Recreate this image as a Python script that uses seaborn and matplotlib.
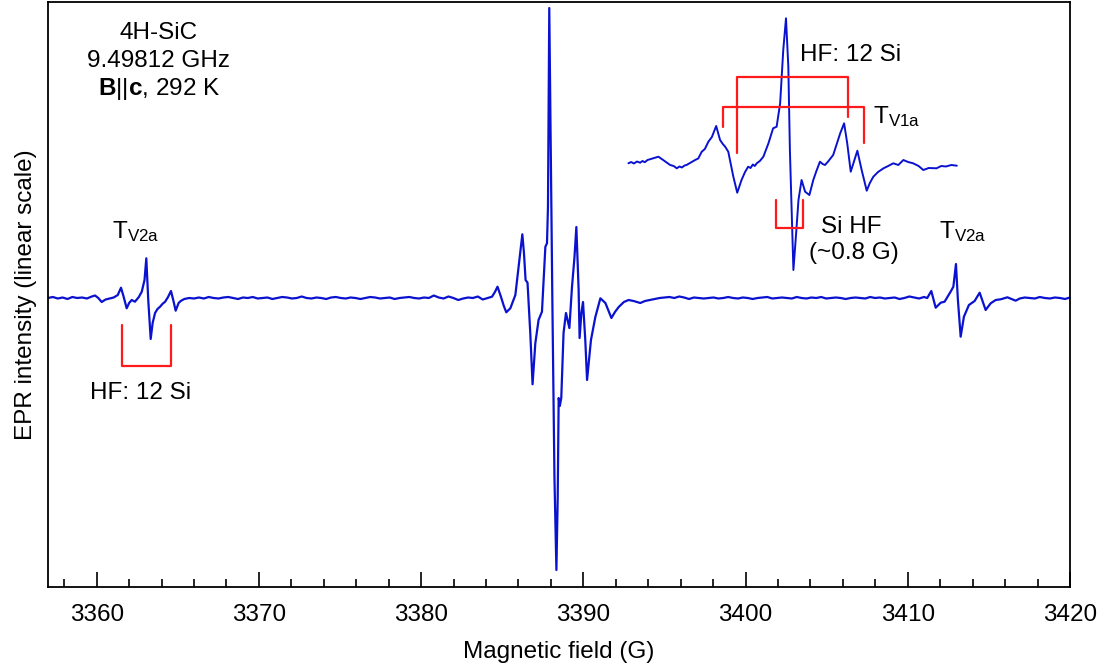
import numpy as np
import pandas as pd
import matplotlib
matplotlib.use("Agg")
import matplotlib.pyplot as plt
import seaborn as sns

# ==============================================================
# DATA
# ==============================================================
# intensity in arbitrary units (baseline = 0)

# flat baseline pieces: start, stop, hand-read wiggles
base_left = (3357.0, 3359.7, [0, 1, -0.5, 0.5, -1, 1, 0, 0.5, -0.5, 1.5])
base_mid1 = (3365.4, 3384.1, [-1, 0, -0.5, 0.5, -0.5, 1, 0, -0.5, 0.5, 1, 0, -1, 0.5, 0, 1, -0.5,
                              0, 0.5, -1, 0, 1, 0.5, -0.5, 0, 1.5, 0, -0.5, 0.5, 0, -1, 0.5, 1,
                              0, -0.5, 0.5, 0, -1, 0, 1, 0.5, -0.5, 0, 0.5, -1, 0, 0.5, 1, 0,
                              -0.5, 0.5, 0, 2.5, 0.5, -0.5, 1.5, 0, -2, -0.5, 0.5, 0, 1.5, -1.5, 0])
base_mid2 = (3393.8, 3411.0, [-3, -2, -1, 0, 0.5, 1, 0, 1.5, 0.5, -1, 0.5, 0, -0.5, 0, 0.5, -0.5,
                              0, 1, 0, -0.5, 0.5, 0, -1, 0, 0.5, 1, -0.5, 0, 0.5, 0, -0.5, 1,
                              0, -0.5, 0.5, 0, 1, -0.5, 0, 0.5, 0, -1, 0, 0.5, 0, -0.5, 1, 0,
                              0.5, -0.5, 0, 0.5, -1, 0, 1.5, 0.5, -0.5, 1])
base_right = (3416.9, 3420.0, [-0.5, 0.5, 0, -0.5, 1, 0, -0.5, 0.5, 0, -1, 0.5])

# T_V2a low-field line
tv2a_lo_field = [3359.9, 3360.1, 3360.31, 3360.55, 3360.8, 3361.05, 3361.3, 3361.5, 3361.65,
                 3361.85, 3362.0, 3362.16, 3362.36, 3362.6, 3362.78, 3362.95, 3363.06, 3363.18,
                 3363.33, 3363.45, 3363.6, 3363.75, 3363.91, 3364.05, 3364.22, 3364.4, 3364.58,
                 3364.72, 3364.87, 3365.05, 3365.18]
tv2a_lo_int = [2.5, 0, -4, -1.5, -0.5, 0.5, 3, 10.3, 2, -10.3, -5, -2, -3.7, 1, 6.3, 18, 39.7,
               -2, -41, -25, -15, -11, -8.7, -6, -3.7, 1, 7, -2, -12.7, -5, -3]

# central T_V1a group
center_field = [3384.37, 3384.55, 3384.71, 3384.92, 3385.1, 3385.25, 3385.5, 3385.81, 3386.01,
                3386.24, 3386.34, 3386.44, 3386.56, 3386.73, 3386.87, 3387.04, 3387.24, 3387.45,
                3387.66, 3387.76, 3387.82, 3387.90, 3388.09, 3388.22, 3388.34, 3388.42, 3388.48,
                3388.55, 3388.64, 3388.78, 3388.93, 3389.14, 3389.30, 3389.45, 3389.57, 3389.71,
                3389.77, 3389.88, 3389.98, 3390.12, 3390.23, 3390.47, 3390.74, 3391.05, 3391.36,
                3391.73, 3391.95, 3392.18, 3392.5, 3392.79, 3393.1, 3393.51]
center_int = [1.3, 6, 11.3, 1.3, -8, -14.3, -10.3, 3, 31.3, 63.7, 45, 18, 15.3, -35.3, -86.3,
              -45.3, -22, -13.7, 51.3, 54.7, 91, 290, -2, -180, -272, -200, -100, -108, -100,
              -35, -15, -30, 11, 40, 71, 8, -40, -15, -4, -42, -82, -42, -19, -0.3, -5, -20,
              -14, -9, -4, -2, -3, -5]

# T_V2a high-field line
tv2a_hi_field = [3411.2, 3411.45, 3411.72, 3412.03, 3412.27, 3412.64, 3412.81, 3412.97, 3413.09,
                 3413.26, 3413.46, 3413.77, 3414.12, 3414.43, 3414.80, 3415.11, 3415.42, 3415.73,
                 3416.14, 3416.65]
tv2a_hi_int = [0, 7, -9.7, -4.7, -3.7, 6.3, 11.3, 34, -2, -38.7, -18.7, -7, -3, 5.3, -12, -5.3,
               -2, -1.3, 0.7, -2.7]

# expanded central line (inset trace)
inset_field = [3383.96, 3384.03, 3384.10, 3384.18, 3384.26, 3384.32, 3384.38, 3384.45, 3384.51,
               3384.62, 3384.73, 3384.85, 3384.94, 3385.03, 3385.12, 3385.20, 3385.27, 3385.33,
               3385.40, 3385.45, 3385.56, 3385.67, 3385.75, 3385.84, 3385.92, 3386.01, 3386.10,
               3386.21, 3386.31, 3386.38, 3386.44, 3386.52, 3386.65, 3386.75, 3386.86, 3386.95,
               3387.03, 3387.09, 3387.15, 3387.20, 3387.25, 3387.33, 3387.42, 3387.55, 3387.67,
               3387.76, 3387.85, 3387.93, 3388.00, 3388.06, 3388.10, 3388.15, 3388.19, 3388.26,
               3388.32, 3388.40, 3388.49, 3388.60, 3388.70, 3388.78, 3388.87, 3388.94, 3389.00,
               3389.08, 3389.21, 3389.39, 3389.49, 3389.57, 3389.66, 3389.83, 3389.94, 3390.07,
               3390.15, 3390.24, 3390.36, 3390.50, 3390.62, 3390.75, 3390.88, 3391.01, 3391.13,
               3391.26, 3391.40, 3391.52, 3391.66, 3391.86, 3391.98, 3392.10, 3392.24, 3392.38]
inset_int = [-0.3, 1, -0.5, 1.5, 0.3, 2, 0.8, 3, 3.7, 5, 6.3, 3, 0.5, -2, -3, -5.3, -3.5, -4.5,
             -2.5, -2, 0.5, 3, 4.5, 11.3, 14, 21.3, 26, 37, 23, 19, 16.3, 11.3, -13.7, -29.7,
             -17, -9, -3.7, -5, -1.5, -3, -0.3, 2, 6.3, 19.7, 34.7, 36.3, 59.7, 113, 144.7, 96.3,
             13, -53.7, -107, -70.3, -37, -17, -28.7, -32, -17, -8, 1.3, -1, -2, 1.5, 8, 29.7,
             39.7, 19.7, -8.7, 12.3, -7, -27.7, -20, -13.7, -9, -5.3, -3, -0.3, -2, 3, 1, -0.3,
             -3, -7, -5, -5.3, -3, -3.5, -2, -2.7]

# brackets (field, intensity) in the inset and main frame
inset_hf_upper = ([3386.74, 3386.74, 3389.60, 3389.60], [9.7, 86.3, 86.3, 46.3])
inset_hf_lower = ([3386.39, 3386.39, 3390.01, 3390.01], [36.3, 56.3, 56.3, 20.3])
inset_si_hf = ([3387.74, 3387.74, 3388.43, 3388.43], [-37, -64.7, -64.7, -37])
main_hf_left = ([3361.58, 3361.58, 3364.60, 3364.60], [-27, -68, -68, -27])

BLUE = "#0a12cf"
RED = "#ff1a1a"


def build_trace():
    parts = []
    segs = [base_left, (tv2a_lo_field, tv2a_lo_int), base_mid1, (center_field, center_int),
            base_mid2, (tv2a_hi_field, tv2a_hi_int), base_right]
    for seg in segs:
        if len(seg) == 3:
            start, stop, wig = seg
            parts.append(pd.DataFrame({"field": np.linspace(start, stop, len(wig)), "int": wig}))
        else:
            parts.append(pd.DataFrame({"field": seg[0], "int": seg[1]}))
    return pd.concat(parts, ignore_index=True)


# ==============================================================
# STYLE
# ==============================================================
sns.set_style("ticks")
plt.rcParams['font.family'] = ['Liberation Sans', 'DejaVu Sans']
plt.rcParams['mathtext.fontset'] = 'custom'
plt.rcParams['mathtext.rm'] = 'Liberation Sans'
plt.rcParams['mathtext.bf'] = 'Liberation Sans:bold'
plt.rcParams['mathtext.it'] = 'Liberation Sans:italic'
plt.rcParams['text.color'] = 'black'
plt.rcParams['axes.labelcolor'] = 'black'
plt.rcParams['xtick.color'] = 'black'
plt.rcParams['ytick.color'] = 'black'

FS = 17.5
W, H = 1106, 671

fig = plt.figure(figsize=(W / 100, H / 100), dpi=100)
ax = fig.add_axes([48 / W, 1 - 587 / H, (1070 - 48) / W, 585 / H])

spec = build_trace()
sns.lineplot(data=spec, x="field", y="int", ax=ax, color=BLUE, lw=1.6,
             sort=False, estimator=None)

ax.set_xlim(3357, 3420)
ax.set_ylim(-289, 296)
ax.set_yticks([])
ax.set_xticks(np.arange(3360, 3421, 10))
ax.set_xticks(np.arange(3358, 3421, 2), minor=True)
ax.tick_params(axis="x", which="major", direction="in", length=11, width=1.2,
               labelsize=FS, pad=12)
ax.tick_params(axis="x", which="minor", direction="in", length=5.5, width=1.2)
for sp in ax.spines.values():
    sp.set_linewidth(1.3)
    sp.set_color("black")
ax.set_xlabel("Magnetic field (G)", fontsize=FS, labelpad=11)
ax.set_ylabel("EPR intensity (linear scale)", fontsize=FS, labelpad=8)

# sample info
ax.text(3363.84, 265, "4H-SiC", fontsize=FS, ha="center", va="center")
ax.text(3363.84, 237, "9.49812 GHz", fontsize=FS, ha="center", va="center")
ax.text(3363.84, 209, r"$\mathbf{B}$||$\mathbf{c}$, 292 K", fontsize=FS, ha="center", va="center")

# T_V2a labels and HF bracket
ax.text(3362.4, 66, r"T$_{\mathrm{V2a}}$", fontsize=FS, ha="center", va="center")
ax.text(3413.4, 66, r"T$_{\mathrm{V2a}}$", fontsize=FS, ha="center", va="center")
ax.plot(*main_hf_left, color=RED, lw=1.6)
ax.text(3362.68, -95, "HF: 12 Si", fontsize=FS, ha="center", va="center")

# inset labels
ax.text(3406.47, 243, "HF: 12 Si", fontsize=FS, ha="center", va="center")
ax.text(3409.3, 181, r"T$_{\mathrm{V1a}}$", fontsize=FS, ha="center", va="center")
ax.text(3406.53, 71, "Si HF", fontsize=FS, ha="center", va="center")
ax.text(3406.65, 45, "(~0.8 G)", fontsize=FS, ha="center", va="center")

# ==============================================================
# INSET: expanded central line
# ==============================================================
ax_in = fig.add_axes([620 / W, 1 - 280 / H, 350 / W, 280 / H])
ax_in.set_axis_off()
sns.lineplot(x=inset_field, y=inset_int, ax=ax_in, color=BLUE, lw=1.4,
             sort=False, estimator=None)
ax_in.set_xlim(3383.744, 3392.718)
ax_in.set_ylim(-117, 163)
for br in (inset_hf_upper, inset_hf_lower, inset_si_hf):
    ax_in.plot(*br, color=RED, lw=1.6)

fig.savefig("out.png", dpi=100)
